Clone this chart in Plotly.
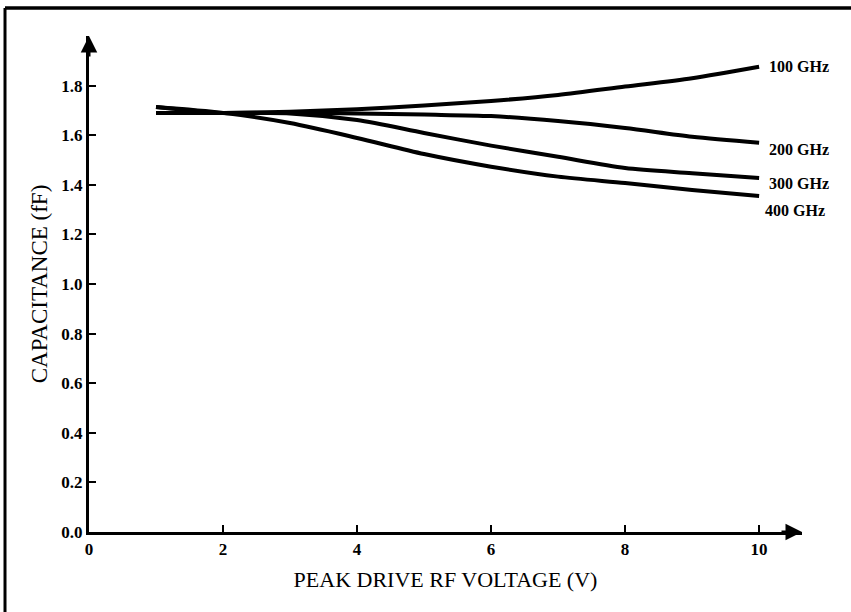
import plotly.graph_objects as go

# Data
voltage = [1, 2, 3, 4, 5, 6, 7, 8, 9, 10]
cap_100 = [1.690, 1.690, 1.695, 1.705, 1.720, 1.738, 1.762, 1.796, 1.830, 1.876]
cap_200 = [1.690, 1.690, 1.690, 1.688, 1.683, 1.677, 1.657, 1.629, 1.594, 1.570]
cap_300 = [1.714, 1.690, 1.688, 1.661, 1.609, 1.558, 1.513, 1.468, 1.447, 1.427]
cap_400 = [1.714, 1.690, 1.649, 1.589, 1.524, 1.473, 1.433, 1.407, 1.379, 1.355]
series_names = ["100 GHz", "200 GHz", "300 GHz", "400 GHz"]
series_values = [cap_100, cap_200, cap_300, cap_400]
label_shifts = [(8, 0), (8, -7), (8, -5), (4, -15)]

x_ticks = [0, 2, 4, 6, 8, 10]
y_ticks = [0.0, 0.2, 0.4, 0.6, 0.8, 1.0, 1.2, 1.4, 1.6, 1.8]
y_tick_text = ["%.1f" % v for v in y_ticks]

SERIF = "Liberation Serif, Times New Roman, serif"

fig = go.Figure()
for name, vals in zip(series_names, series_values):
    fig.add_trace(go.Scatter(
        x=voltage, y=vals, mode="lines", name=name,
        line=dict(color="black", width=4, shape="spline", smoothing=0.8),
        showlegend=False, hoverinfo="skip",
    ))

annotations = []
for name, vals, (dx, dy) in zip(series_names, series_values, label_shifts):
    annotations.append(dict(
        x=voltage[-1], y=vals[-1], xref="x", yref="y", text=name,
        showarrow=False, xanchor="left", yanchor="middle",
        xshift=dx, yshift=dy,
        font=dict(family=SERIF, size=16, color="black", weight="bold"),
    ))

# axis arrows
annotations.append(dict(
    x=1, y=0, xref="paper", yref="paper", ax=-22, ay=0, text="",
    showarrow=True, arrowhead=2, arrowsize=1.1, arrowwidth=3, arrowcolor="black",
))
annotations.append(dict(
    x=0, y=1, xref="paper", yref="paper", ax=0, ay=22, text="",
    showarrow=True, arrowhead=2, arrowsize=1.1, arrowwidth=3, arrowcolor="black",
))

fig.update_layout(
    width=851, height=612,
    margin=dict(l=89, r=49, t=36, b=80),
    paper_bgcolor="white", plot_bgcolor="white",
    annotations=annotations,
    shapes=[
        dict(type="line", xref="paper", yref="paper",
             x0=-0.1178, x1=1.1, y0=1.0565, y1=1.0565,
             line=dict(color="black", width=3.5)),
        dict(type="line", xref="paper", yref="paper",
             x0=-0.1178, x1=-0.1178, y0=1.0565, y1=-0.2,
             line=dict(color="black", width=3)),
    ],
)

fig.update_xaxes(
    range=[0, 10.64], tickvals=x_ticks, ticktext=[str(v) for v in x_ticks],
    automargin=False,
    showline=True, linecolor="black", linewidth=3,
    ticks="inside", ticklen=7, tickwidth=2, tickcolor="black",
    showgrid=False, zeroline=False,
    tickfont=dict(family=SERIF, size=17, color="black", weight="bold"),
    title=dict(text="PEAK DRIVE RF VOLTAGE (V)", standoff=14,
               font=dict(family=SERIF, size=22, color="black")),
)
fig.update_yaxes(
    range=[0, 2.0], tickvals=y_ticks, ticktext=y_tick_text,
    automargin=False,
    showline=True, linecolor="black", linewidth=3,
    ticks="inside", ticklen=7, tickwidth=2, tickcolor="black",
    showgrid=False, zeroline=False,
    tickfont=dict(family=SERIF, size=17, color="black", weight="bold"),
    title=dict(text="CAPACITANCE (fF)", standoff=8,
               font=dict(family=SERIF, size=23, color="black")),
)

fig.write_html("out.html", config={"displayModeBar": False},
               post_script="document.body.style.margin='0';")
